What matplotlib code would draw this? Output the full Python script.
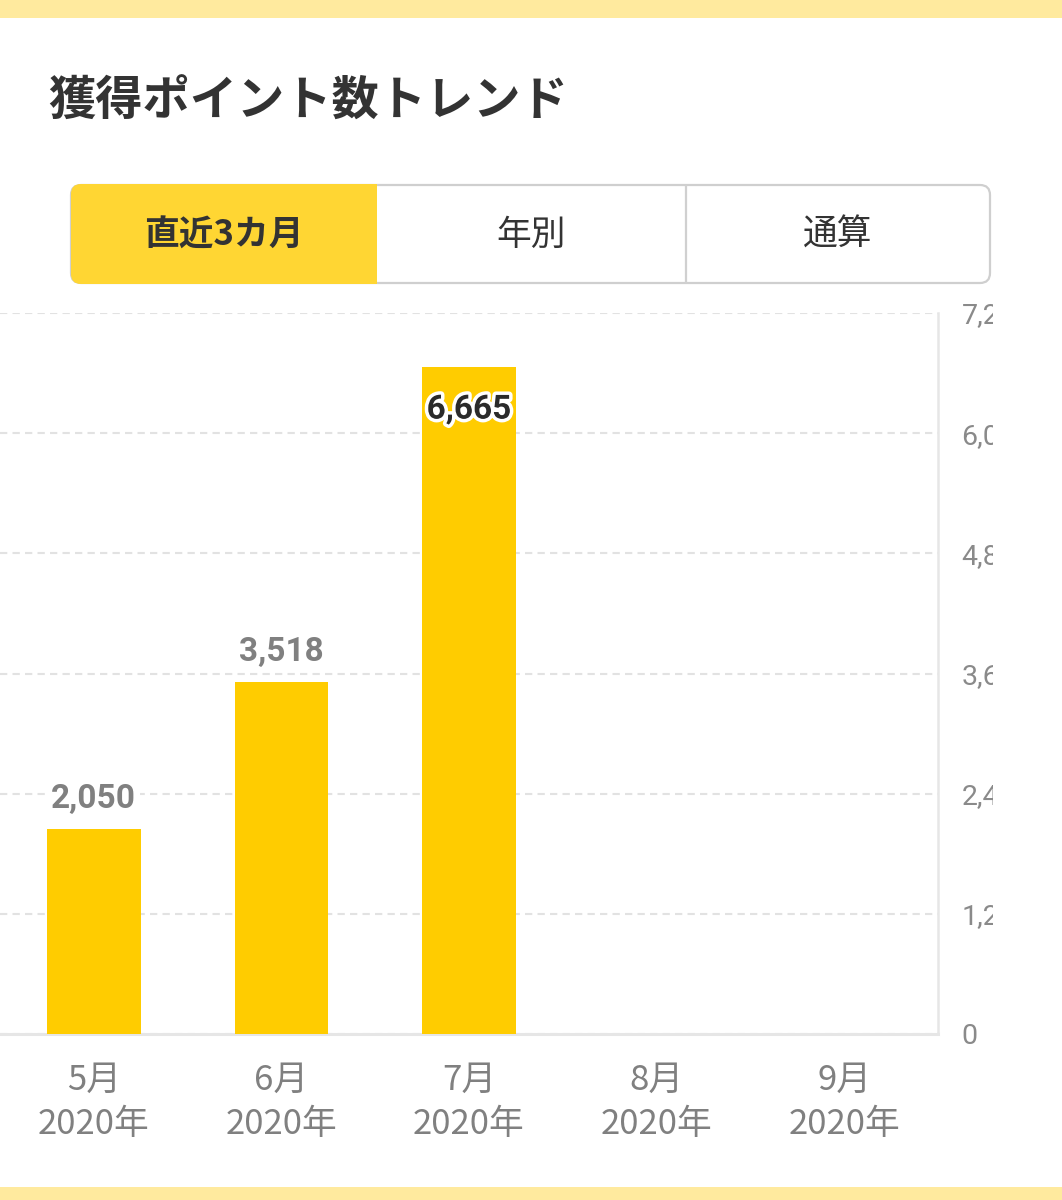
import matplotlib
matplotlib.use('Agg')
import matplotlib.pyplot as plt
from matplotlib.patches import FancyBboxPatch, Rectangle
import matplotlib.patheffects as pe

plt.rcParams['font.family'] = ['Noto Sans CJK JP', 'DejaVu Sans']

# ---- data ----
title = '獲得ポイント数トレンド'
tabs = ['直近3カ月', '年別', '通算']
months = ['5月', '6月', '7月', '8月', '9月']
years = ['2020年', '2020年', '2020年', '2020年', '2020年']
points = [2050, 3518, 6665, None, None]
yticks = [0, 1200, 2400, 3600, 4800, 6000, 7200]

W, H = 1062, 1200
fig = plt.figure(figsize=(W / 100, H / 100), dpi=100)
fig.patch.set_facecolor('white')

# ---- chart axes ----
ax = fig.add_axes([0, (H - 1034) / H, 938 / W, (1034 - 313) / H])
ax.set_facecolor('white')
xs = [i for i, v in enumerate(points) if v is not None]
vals = [v for v in points if v is not None]
ax.bar(xs, vals, width=0.5, color='#FFCC00', zorder=3)
ax.set_xlim(-0.5, 4.5)
ax.set_ylim(0, 7200)

ax.set_yticks(yticks)
ax.set_yticklabels([f'{t:,}' for t in yticks])
ax.yaxis.tick_right()
ax.tick_params(axis='y', length=0, pad=17, labelsize=20.5, labelcolor='#8a8a8a')
for lbl in ax.get_yticklabels():
    lbl.set_family(['Roboto', 'Noto Sans CJK JP'])

ax.set_xticks(range(len(months)))
ax.set_xticklabels([f'{m}\n{y}' for m, y in zip(months, years)])
ax.tick_params(axis='x', length=0, pad=21, labelsize=25, labelcolor='#808080')
for lbl in ax.get_xticklabels():
    lbl.set_linespacing(1.32)

ax.grid(axis='y', color='#e2e2e2', linestyle=(0, (3.5, 2.5)), linewidth=1.5, zorder=1)
ax.set_axisbelow(True)
for s in ['left', 'top']:
    ax.spines[s].set_visible(False)
ax.spines['bottom'].set_color('#e6e6e6')
ax.spines['bottom'].set_linewidth(2.2)
ax.spines['right'].set_color('#e6e6e6')
ax.spines['right'].set_linewidth(1.8)

ymax = ax.get_ylim()[1]
for x, v in zip(xs, vals):
    if v > 0.88 * ymax:
        ax.annotate(f'{v:,}', (x, v), xytext=(0, -31), textcoords='offset points',
                    ha='center', va='center', fontsize=24, fontweight='bold',
                    color='#2a2a2a', family=['Roboto', 'Noto Sans CJK JP'], zorder=5,
                    path_effects=[pe.withStroke(linewidth=5, foreground='white')])
    else:
        ax.annotate(f'{v:,}', (x, v), xytext=(0, 21.5), textcoords='offset points',
                    ha='center', va='center', fontsize=24, fontweight='bold',
                    color='#808080', family=['Roboto', 'Noto Sans CJK JP'], zorder=5,
                    bbox=dict(boxstyle='square,pad=0.1', fc='white', ec='none'))

# ---- overlay (page furniture) ----
ov = fig.add_axes([0, 0, 1, 1], zorder=10)
ov.set_xlim(0, W)
ov.set_ylim(H, 0)
ov.axis('off')
ov.patch.set_alpha(0)

ov.add_patch(Rectangle((0, 0), W, 18, fc='#FFEA9E', ec='none'))
ov.add_patch(Rectangle((0, 1187), W, 13, fc='#FFEA9E', ec='none'))
# clip right side labels
ov.add_patch(Rectangle((993, 295), W - 993, 770, fc='white', ec='none'))

ov.text(48, 102, title, fontsize=34, fontweight='bold', color='#333333',
        ha='left', va='center')

btn = FancyBboxPatch((71, 185), 919, 98, boxstyle='round,pad=0,rounding_size=10',
                     fc='white', ec='#cfcfcf', lw=1.6)
ov.add_patch(btn)
yel = Rectangle((71, 184), 306, 100, fc='#FFD633', ec='none')
ov.add_patch(yel)
yel.set_clip_path(FancyBboxPatch((71, 184), 919, 100,
                                 boxstyle='round,pad=0,rounding_size=10',
                                 transform=ov.transData))
ov.plot([686, 686], [186, 282], color='#d0d0d0', lw=1.6)

centers = [224, 531.5, 838]
for i, (cx, t) in enumerate(zip(centers, tabs)):
    ov.text(cx, 235, t, fontsize=25, fontweight='bold' if i == 0 else 'normal',
            color='#333333', ha='center', va='center')

fig.savefig('out.png', dpi=100, facecolor='white')
